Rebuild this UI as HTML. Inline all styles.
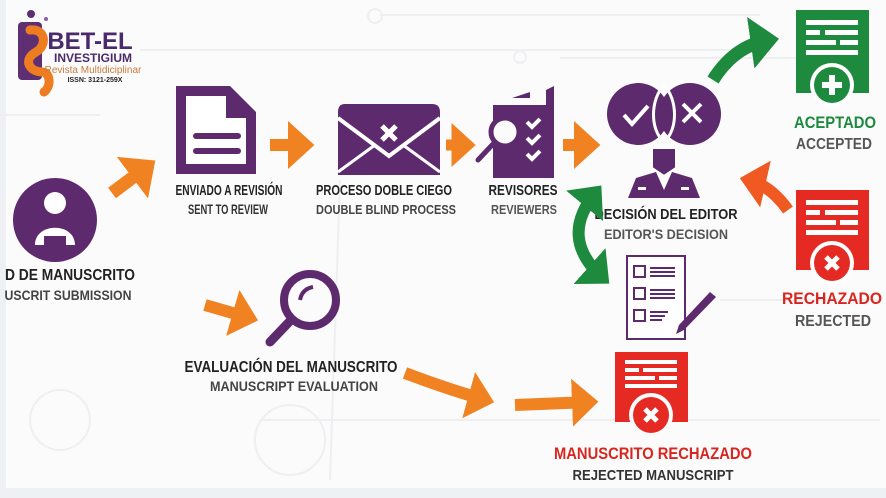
<!DOCTYPE html>
<html><head><meta charset="utf-8"><style>
html,body{margin:0;padding:0;background:#fff}
body{width:886px;height:498px;overflow:hidden;position:relative}
svg{position:absolute;left:0;top:0}
text{font-family:"Liberation Sans Narrow","Liberation Sans",sans-serif;font-weight:bold;text-anchor:middle}
</style></head><body>
<svg width="886" height="498" viewBox="0 0 886 498" xmlns="http://www.w3.org/2000/svg">
<defs>
<marker id="ao" markerWidth="4" markerHeight="4" refX="1.5" refY="2" orient="auto" markerUnits="strokeWidth"><path d="M0,0 L2.2,2 L0,4 Z" fill="#f08222"/></marker>
<marker id="ag" markerWidth="4" markerHeight="4" refX="1.5" refY="2" orient="auto" markerUnits="strokeWidth"><path d="M0,0 L2.2,2 L0,4 Z" fill="#1e8a3e"/></marker>
<marker id="agr" markerWidth="4" markerHeight="4" refX="1.5" refY="2" orient="auto-start-reverse" markerUnits="strokeWidth"><path d="M0,0 L2.2,2 L0,4 Z" fill="#1e8a3e"/></marker>
<marker id="ar" markerWidth="4" markerHeight="4" refX="1.5" refY="2" orient="auto" markerUnits="strokeWidth"><path d="M0,0 L2.2,2 L0,4 Z" fill="#f05a22"/></marker>
</defs>
<rect width="886" height="498" fill="#fbfbfc"/>
<rect x="0" y="0" width="6" height="498" fill="#eef0f4"/>
<rect x="0" y="488" width="886" height="10" fill="#eef0f4"/>
<g stroke="#efeff2" stroke-width="2" fill="none">
<line x1="140" y1="50" x2="760" y2="50"/><line x1="380" y1="15" x2="760" y2="15"/>
<line x1="560" y1="58" x2="800" y2="58"/><line x1="340" y1="180" x2="330" y2="480"/>
<line x1="0" y1="115" x2="100" y2="115"/><line x1="260" y1="420" x2="880" y2="420"/>
<line x1="720" y1="300" x2="880" y2="300"/><circle cx="375" cy="16" r="7"/><circle cx="520" cy="57" r="6"/>
<circle cx="290" cy="440" r="35"/><circle cx="60" cy="420" r="30"/>
</g>
<rect x="18" y="22" width="24" height="58" rx="4" fill="#5e2f73"/>
<path d="M30,30 C45,28 48,45 36,52 C22,60 30,72 42,72 C50,72 52,86 44,92" stroke="#ee7d21" stroke-width="9" fill="none" stroke-linecap="round"/>
<circle cx="31" cy="14" r="4" fill="#5e2f73"/><circle cx="46" cy="19" r="2" fill="#8a5fa0"/>
<text x="90" y="49" style="font-family:'Liberation Sans',sans-serif;font-size:24px;fill:#4a2a6b">BET-EL</text>
<text x="93" y="62" style="font-family:'Liberation Sans',sans-serif;font-size:12px;fill:#4a2a6b">INVESTIGIUM</text>
<text x="93" y="73" style="font-family:'Liberation Sans',sans-serif;font-size:10px;font-weight:normal;fill:#c97a3a">Revista Multidiciplinar</text>
<text x="95" y="82" style="font-family:'Liberation Sans',sans-serif;font-size:7px;fill:#222">ISSN: 3121-259X</text>
<circle cx="55" cy="220" r="42" fill="#5e2a6e"/>
<circle cx="55" cy="203" r="11" fill="#fff"/>
<path d="M35,245 C35,222 75,222 75,245 L66,245 L66,236 L44,236 L44,245Z" fill="#fff"/>
<text x="70" y="280" textLength="130" lengthAdjust="spacingAndGlyphs" style="font-size:16px;fill:#222">D DE MANUSCRITO</text>
<text x="68" y="300" textLength="127" lengthAdjust="spacingAndGlyphs" style="font-size:14px;fill:#444">USCRIT SUBMISSION</text>
<line x1="112" y1="193" x2="148" y2="166" stroke="#f08222" stroke-width="13" marker-end="url(#ao)"/>
<path d="M176,86 L230,86 L256,112 L256,174 L176,174Z" fill="#5e2a6e"/>
<path d="M186,96 L226,96 L226,118 L246,118 L246,164 L186,164Z" fill="#fff"/>
<path d="M232,97 L245,110 L232,110Z" fill="#5e2a6e"/>
<rect x="193" y="133" width="48" height="6" rx="3" fill="#5e2a6e"/><rect x="193" y="148" width="48" height="6" rx="3" fill="#5e2a6e"/>
<text x="229" y="195" textLength="107" lengthAdjust="spacingAndGlyphs" style="font-size:15px;fill:#222">ENVIADO A REVISIÓN</text>
<text x="228" y="214" textLength="80" lengthAdjust="spacingAndGlyphs" style="font-size:14px;fill:#333">SENT TO REVIEW</text>
<line x1="270" y1="145" x2="306" y2="145" stroke="#f08222" stroke-width="12" marker-end="url(#ao)"/>
<path d="M345,104 L432,104 Q440,104 440,112 L440,175 L338,175 L338,112 Q338,104 345,104Z" fill="#5e2a6e"/>
<path d="M338,118 L389,156 L440,118" stroke="#fff" stroke-width="4" fill="none"/>
<path d="M338,172 L375,145 M440,172 L403,145" stroke="#fff" stroke-width="3"/>
<path d="M382,126 L396,140 M396,126 L382,140" stroke="#fff" stroke-width="5"/>
<text x="384" y="195" textLength="136" lengthAdjust="spacingAndGlyphs" style="font-size:15px;fill:#222">PROCESO DOBLE CIEGO</text>
<text x="386" y="214" textLength="140" lengthAdjust="spacingAndGlyphs" style="font-size:13px;fill:#444">DOUBLE BLIND PROCESS</text>
<line x1="446" y1="145" x2="468" y2="145" stroke="#f08222" stroke-width="11" marker-end="url(#ao)"/>
<path d="M493,105 L546,105 L546,90 L554,86 L554,178 L493,178Z" fill="#5e2a6e"/>
<path d="M512,98 L530,92 L530,98Z" fill="#5e2a6e"/>
<circle cx="505" cy="132" r="14" fill="#fbfbfc" stroke="#5e2a6e" stroke-width="5"/>
<line x1="494" y1="143" x2="478" y2="160" stroke="#5e2a6e" stroke-width="5" stroke-linecap="round"/>
<g stroke="#fff" stroke-width="4" fill="none"><path d="M527,122 L532,127 L540,119"/><path d="M527,138 L532,143 L540,135"/><path d="M527,154 L532,159 L540,151"/></g>
<text x="523" y="195" textLength="69" lengthAdjust="spacingAndGlyphs" style="font-size:15px;fill:#222">REVISORES</text>
<text x="524" y="214" textLength="66" lengthAdjust="spacingAndGlyphs" style="font-size:13px;fill:#555">REVIEWERS</text>
<line x1="563" y1="145" x2="592" y2="145" stroke="#f08222" stroke-width="12" marker-end="url(#ao)"/>
<circle cx="638" cy="114" r="31" fill="#5e2a6e"/><circle cx="690" cy="114" r="31" fill="#5e2a6e"/>
<path d="M664,85 C650,100 650,130 664,142 C678,130 678,100 664,85Z" fill="none" stroke="#fff" stroke-width="3"/>
<path d="M624,115 L632,124 L648,106" stroke="#fff" stroke-width="4" fill="none"/>
<path d="M683,104 L701,122 M701,104 L683,122" stroke="#fff" stroke-width="4"/>
<path d="M652,148 L676,148 L676,168 L664,176 L652,168Z" fill="#5e2a6e" stroke="#fff" stroke-width="2"/>
<path d="M628,198 L636,178 L656,172 L664,190 L672,172 L692,178 L700,198Z" fill="#5e2a6e"/>
<rect x="638" y="187" width="8" height="3" fill="#fff"/><rect x="681" y="187" width="8" height="3" fill="#fff"/>
<text x="666" y="219" textLength="143" lengthAdjust="spacingAndGlyphs" style="font-size:15px;fill:#222">DECISIÓN DEL EDITOR</text>
<text x="666" y="239" textLength="124" lengthAdjust="spacingAndGlyphs" style="font-size:14px;fill:#555">EDITOR'S DECISION</text>
<path d="M713,80 Q735,45 770,40" stroke="#1e8a3e" stroke-width="13" fill="none" marker-end="url(#ag)"/>
<rect x="796" y="10" width="73" height="83" fill="#1e8a3e"/>
<g fill="#fff"><rect x="806" y="20" width="52" height="5"/><rect x="806" y="30" width="14" height="5"/><rect x="825" y="30" width="33" height="5"/><rect x="806" y="40" width="30" height="5"/><rect x="840" y="40" width="18" height="5"/><rect x="806" y="50" width="52" height="5"/></g>
<circle cx="832" cy="85" r="22" fill="#fff"/><circle cx="832" cy="85" r="18" fill="#1e8a3e"/>
<path d="M832,75 L832,95 M822,85 L842,85" stroke="#fff" stroke-width="6"/>
<text x="835" y="128" textLength="82" lengthAdjust="spacingAndGlyphs" style="font-size:17px;fill:#1e8a3e">ACEPTADO</text>
<text x="834" y="149" textLength="76" lengthAdjust="spacingAndGlyphs" style="font-size:16px;fill:#555">ACCEPTED</text>
<path d="M788,210 Q770,185 748,180" stroke="#f05a22" stroke-width="12" fill="none" marker-end="url(#ar)"/>
<rect x="796" y="190" width="73" height="80" fill="#e52a24"/>
<g fill="#fff"><rect x="806" y="200" width="52" height="5"/><rect x="806" y="210" width="14" height="5"/><rect x="825" y="210" width="33" height="5"/><rect x="806" y="220" width="30" height="5"/><rect x="840" y="220" width="18" height="5"/><rect x="806" y="230" width="52" height="5"/></g>
<circle cx="832" cy="263" r="22" fill="#fff"/><circle cx="832" cy="263" r="18" fill="#e52a24"/>
<path d="M826,257 L838,269 M838,257 L826,269" stroke="#fff" stroke-width="5"/>
<text x="832" y="304" textLength="100" lengthAdjust="spacingAndGlyphs" style="font-size:17px;fill:#d8261f">RECHAZADO</text>
<text x="833" y="326" textLength="76" lengthAdjust="spacingAndGlyphs" style="font-size:16px;fill:#555">REJECTED</text>
<path d="M596,192 Q558,238 603,278" stroke="#1e8a3e" stroke-width="12" fill="none" marker-start="url(#agr)" marker-end="url(#ag)"/>
<rect x="627" y="256" width="58" height="83" fill="#fff" stroke="#5e2a6e" stroke-width="2"/>
<g stroke="#5e2a6e" stroke-width="2" fill="none"><rect x="634" y="266" width="11" height="11"/><rect x="634" y="288" width="11" height="11"/><rect x="634" y="310" width="11" height="11"/>
<path d="M650,268h25M650,272h25M650,276h25M650,290h25M650,294h25M650,298h25M650,312h18M650,316h15M650,320h12"/></g>
<path d="M710,292 L716,297 L684,330 L676,334 L679,325Z" fill="#5e2a6e"/>
<line x1="205" y1="305" x2="250" y2="318" stroke="#f08222" stroke-width="12" marker-end="url(#ao)"/>
<circle cx="310" cy="300" r="26" fill="none" stroke="#5e2a6e" stroke-width="8"/>
<path d="M300,300 Q302,289 313,287" stroke="#5e2a6e" stroke-width="4" fill="none"/>
<line x1="291" y1="320" x2="270" y2="342" stroke="#5e2a6e" stroke-width="9" stroke-linecap="round"/>
<text x="291" y="372" textLength="213" lengthAdjust="spacingAndGlyphs" style="font-size:16px;fill:#222">EVALUACIÓN DEL MANUSCRITO</text>
<text x="294" y="391" textLength="168" lengthAdjust="spacingAndGlyphs" style="font-size:14px;fill:#444">MANUSCRIPT EVALUATION</text>
<path d="M405,373 Q450,390 486,400" stroke="#f08222" stroke-width="12" fill="none" marker-end="url(#ao)"/>
<line x1="515" y1="405" x2="590" y2="402" stroke="#f08222" stroke-width="12" marker-end="url(#ao)"/>
<rect x="615" y="352" width="73" height="70" fill="#e52a24"/>
<g fill="#fff"><rect x="625" y="360" width="52" height="4"/><rect x="625" y="368" width="14" height="4"/><rect x="643" y="368" width="34" height="4"/><rect x="625" y="376" width="30" height="4"/><rect x="659" y="376" width="18" height="4"/><rect x="625" y="384" width="52" height="4"/></g>
<circle cx="651" cy="415" r="22" fill="#fbfbfc"/><circle cx="651" cy="415" r="18" fill="#e52a24"/>
<path d="M645,409 L657,421 M657,409 L645,421" stroke="#fff" stroke-width="5"/>
<text x="653" y="459" textLength="198" lengthAdjust="spacingAndGlyphs" style="font-size:17px;fill:#d8261f">MANUSCRITO RECHAZADO</text>
<text x="653" y="480" textLength="161" lengthAdjust="spacingAndGlyphs" style="font-size:15px;fill:#333">REJECTED MANUSCRIPT</text>
</svg>
</body></html>
